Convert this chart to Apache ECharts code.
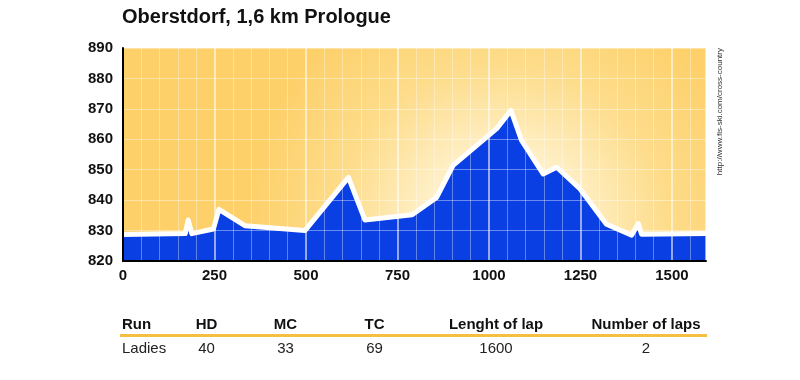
<!DOCTYPE html>
<html><head><meta charset="utf-8">
<script src="https://cdn.jsdelivr.net/npm/echarts@6/dist/echarts.min.js"></script>
<style>html,body{margin:0;padding:0;background:#fff}#c{width:800px;height:380px}</style>
</head><body><div id="c"></div>
<script>
var dist = [0, 170, 178, 188, 247, 262, 333, 497, 616, 661, 790, 857, 902, 1021, 1060, 1089, 1148, 1185, 1249, 1321, 1390, 1408, 1417, 1593];
var elev = [828.7, 829, 833.5, 829, 830.5, 837, 831.6, 830, 847.5, 833.5, 835.2, 840.9, 851.4, 863.5, 869.5, 859.6, 848.6, 850.8, 843.7, 832.1, 828.5, 832.3, 828.8, 829];
var yTicks = [820, 830, 840, 850, 860, 870, 880, 890];
var xTicks = [0, 250, 500, 750, 1000, 1250, 1500];
var tableHeaders = ['Run', 'HD', 'MC', 'TC', 'Lenght of lap', 'Number of laps'];
var tableRow = ['Ladies', '40', '33', '69', '1600', '2'];
var titleText = 'Oberstdorf, 1,6 km Prologue';
var sourceText = 'http://www.fis-ski.com/cross-country';

var FONT = 'Arial, "Liberation Sans", sans-serif';
var chart = echarts.init(document.getElementById('c'), null, {renderer: 'canvas'});
var colX = [122, 206.5, 285.5, 374.5, 496, 646];
var graphics = [];
tableHeaders.forEach(function (h, i) {
  graphics.push({type: 'text', x: colX[i], y: 325,
    style: {text: h, fill: '#111', font: 'bold 15px ' + FONT, align: i === 0 ? 'left' : 'center', verticalAlign: 'middle'}});
});
tableRow.forEach(function (h, i) {
  graphics.push({type: 'text', x: colX[i], y: 349,
    style: {text: h, fill: '#222', font: '15px ' + FONT, align: i === 0 ? 'left' : 'center', verticalAlign: 'middle'}});
});
graphics.push({type: 'line', shape: {x1: 120, y1: 335.5, x2: 707, y2: 335.5}, style: {stroke: '#f5c040', lineWidth: 3}});
graphics.push({type: 'text', x: 720, y: 48, rotation: Math.PI / 2,
  style: {text: sourceText, fill: '#333', font: '8px ' + FONT, align: 'right', verticalAlign: 'middle'}});

chart.setOption({
  animation: false,
  title: {text: titleText, left: 122, top: 7, padding: 0, textStyle: {fontFamily: FONT, fontWeight: 'bold', fontSize: 20, color: '#111'}},
  grid: {left: 123, right: 94, top: 48, bottom: 119, show: true, borderWidth: 0,
    backgroundColor: {type: 'radial', x: 0.65, y: 0.85, r: 1.2,
      colorStops: [{offset: 0, color: '#fffdf6'}, {offset: 0.3, color: '#fff0c8'}, {offset: 0.65, color: '#fddc8a'}, {offset: 1, color: '#fdd06a'}]}},
  xAxis: {type: 'value', min: 0, max: 1593, interval: 250, z: 3,
    axisLine: {show: true, onZero: false, lineStyle: {color: '#000', width: 2}},
    axisTick: {show: false},
    axisLabel: {margin: 7, color: '#111', fontFamily: FONT, fontWeight: 'bold', fontSize: 15, showMaxLabel: false,
      formatter: function (v) { return xTicks.indexOf(v) >= 0 ? String(v) : ''; }},
    splitLine: {show: true, lineStyle: {color: 'rgba(255,255,255,0.75)', width: 1.5}},
    minorTick: {show: false, splitNumber: 5},
    minorSplitLine: {show: true, lineStyle: {color: 'rgba(255,255,255,0.35)', width: 1}}},
  yAxis: {type: 'value', min: 820, max: 890, interval: 10, z: 3,
    axisLine: {show: true, lineStyle: {color: '#000', width: 2}},
    axisTick: {show: false},
    axisLabel: {margin: 10, color: '#111', fontFamily: FONT, fontWeight: 'bold', fontSize: 15,
      formatter: function (v) { return yTicks.indexOf(v) >= 0 ? String(v) : ''; }},
    splitLine: {show: true, lineStyle: {color: 'rgba(255,255,255,0.4)', width: 1}}},
  series: [{type: 'line', data: dist.map(function (d, i) { return [d, elev[i]]; }),
    symbol: 'none', z: 2,
    lineStyle: {color: '#ffffff', width: 5, join: 'round', cap: 'round'},
    areaStyle: {color: '#0a3fe3', opacity: 1, origin: 'start'}}],
  graphic: graphics
});
</script></body></html>
